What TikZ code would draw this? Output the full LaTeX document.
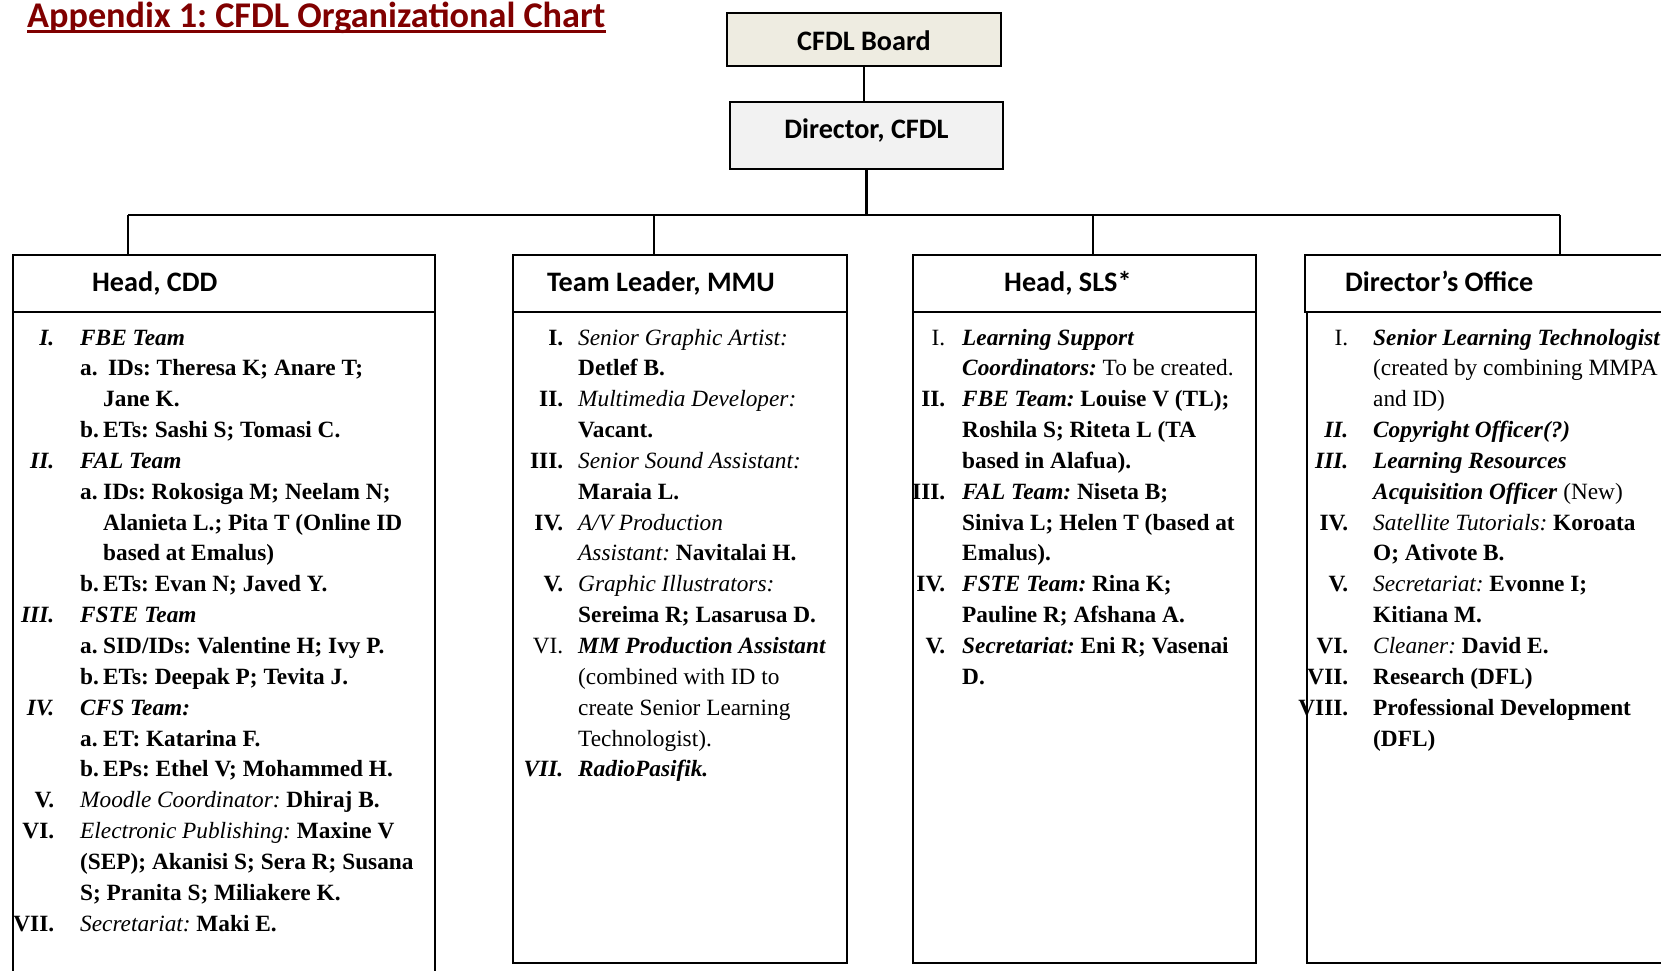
\documentclass[tikz,border=0pt]{standalone}
\usepackage{fontspec}
\setmainfont{Liberation Serif}
\newfontfamily\hdfont{Carlito}
\definecolor{titlered}{RGB}{128,0,0}
\definecolor{boardfill}{RGB}{238,236,225}
\definecolor{dirfill}{RGB}{242,242,242}
\newlength\gapw
\newcommand\rnum[1]{\llap{#1}\hspace{\gapw}}
\newcommand\cont{\hspace{\gapw}}
\newcommand\bfit[1]{\textbf{\textit{#1}}}
\newcommand\sublab[1]{\makebox[23pt][l]{#1}}
\newcommand\subind{\hspace{23pt}}
\begin{document}
\frenchspacing
\begin{tikzpicture}[x=1pt,y=-1pt,
  conn/.style={line width=2.2pt},
  box/.style={draw, line width=2.2pt, inner sep=0pt, outer sep=0pt, anchor=north west},
  topbox/.style={box, font=\hdfont\bfseries\fontsize{28.2}{34}\selectfont, align=center},
  hdtext/.style={anchor=base west, inner sep=0pt, font=\hdfont\bfseries\fontsize{28.2}{34}\selectfont},
  bodytext/.style={anchor=base west, inner sep=0pt, font=\fontsize{23.3}{30.85}\selectfont}]
\useasboundingbox (0,0) rectangle (1661,970);
\fill[white] (0,0) rectangle (1661,970);

% title
\node[anchor=base west, inner sep=0pt, text=titlered,
      font=\hdfont\bfseries\fontsize{36.2}{44}\selectfont] (title) at (27,27) {Appendix 1: CFDL Organizational Chart};
\draw[titlered, line width=3pt] ([yshift=-4pt]title.base west) -- ([yshift=-4pt]title.base east);

% top boxes
\node[topbox, fill=boardfill, minimum width=274pt, minimum height=53pt, text height=22pt, text depth=0pt] (board) at (727,13) {CFDL Board};
\node[topbox, fill=dirfill, minimum width=273pt, minimum height=67pt, text height=18pt, text depth=13pt] (dir) at (730,102) {Director, CFDL};

% body boxes
\node[box, minimum width=422pt, minimum height=700pt] (b1) at (13,312) {};
\node[box, minimum width=334pt, minimum height=651pt] (b2) at (513,312) {};
\node[box, minimum width=343pt, minimum height=651pt] (b3) at (913,312) {};
\node[box, minimum width=420pt, minimum height=651pt] (b4) at (1307,312) {};

% header boxes
\node[box, minimum width=422pt, minimum height=57pt] (h1) at (13,255) {};
\node[box, minimum width=334pt, minimum height=57pt] (h2) at (513,255) {};
\node[box, minimum width=343pt, minimum height=57pt] (h3) at (913,255) {};
\node[box, minimum width=420pt, minimum height=57pt] (h4) at (1305,255) {};

\node[hdtext] (h1t) at (92,291) {Head, CDD};
\node[hdtext] (h2t) at (547,291) {Team Leader, MMU};
\node[hdtext] (h3t) at (1004,291) {Head, SLS*};
\node[hdtext] (h4t) at (1345,291) {Director’s Office};

% connectors
\coordinate (bus) at (866.5,215);
\coordinate (busL) at (128,215);
\coordinate (d2) at (654,215);
\coordinate (d3) at (1093,215);
\coordinate (busR) at (1560,215);
\draw[conn] (board.south) -- (board.south |- dir.north);
\draw[conn] (dir.south) -- (bus);
\draw[conn] (busL) -- (busR);
\draw[conn] (busL) -- (busL |- h1.north);
\draw[conn] (d2) -- (d2 |- h2.north);
\draw[conn] (d3) -- (d3 |- h3.north);
\draw[conn] (busR) -- (busR |- h4.north);

% body texts
\node[bodytext] (b1t) at (54,345) {\setlength\gapw{26pt}\begin{tabular}[t]{@{}l@{}}
\rnum{\bfit{I.}}\bfit{FBE Team}\\
\cont\textbf{\makebox[28pt][l]{a.}IDs: Theresa K; Anare T;}\\
\cont\subind\textbf{Jane K.}\\
\cont\textbf{\sublab{b.}ETs: Sashi S; Tomasi C.}\\
\rnum{\bfit{II.}}\bfit{FAL Team}\\
\cont\textbf{\sublab{a.}IDs: Rokosiga M; Neelam N;}\\
\cont\subind\textbf{Alanieta L.; Pita T (Online ID}\\
\cont\subind\textbf{based at Emalus)}\\
\cont\textbf{\sublab{b.}ETs: Evan N; Javed Y.}\\
\rnum{\bfit{III.}}\bfit{FSTE Team}\\
\cont\textbf{\sublab{a.}SID/IDs: Valentine H; Ivy P.}\\
\cont\textbf{\sublab{b.}ETs: Deepak P; Tevita J.}\\
\rnum{\bfit{IV.}}\bfit{CFS Team:}\\
\cont\textbf{\sublab{a.}ET: Katarina F.}\\
\cont\textbf{\sublab{b.}EPs: Ethel V; Mohammed H.}\\
\rnum{\textbf{V.}}\textit{Moodle Coordinator:} \textbf{Dhiraj B.}\\
\rnum{\textbf{VI.}}\textit{Electronic Publishing:} \textbf{Maxine V}\\
\cont\textbf{(SEP); Akanisi S; Sera R; Susana}\\
\cont\textbf{S; Pranita S; Miliakere K.}\\
\rnum{\textbf{VII.}}\textit{Secretariat:} \textbf{Maki E.}
\end{tabular}};

\node[bodytext] (b2t) at (563,345) {\setlength\gapw{15pt}\begin{tabular}[t]{@{}l@{}}
\rnum{\textbf{I.}}\textit{Senior Graphic Artist:}\\
\cont\textbf{Detlef B.}\\
\rnum{\textbf{II.}}\textit{Multimedia Developer:}\\
\cont\textbf{Vacant.}\\
\rnum{\textbf{III.}}\textit{Senior Sound Assistant:}\\
\cont\textbf{Maraia L.}\\
\rnum{\textbf{IV.}}\textit{A/V Production}\\
\cont\textit{Assistant:} \textbf{Navitalai H.}\\
\rnum{\textbf{V.}}\textit{Graphic Illustrators:}\\
\cont\textbf{Sereima R; Lasarusa D.}\\
\rnum{VI.}\bfit{MM Production Assistant}\\
\cont(combined with ID to\\
\cont create Senior Learning\\
\cont Technologist).\\
\rnum{\bfit{VII.}}\bfit{RadioPasifik.}
\end{tabular}};

\node[bodytext] (b3t) at (945,345) {\setlength\gapw{17pt}\begin{tabular}[t]{@{}l@{}}
\rnum{I.}\bfit{Learning Support}\\
\cont\bfit{Coordinators:} To be created.\\
\rnum{\textbf{II.}}\bfit{FBE Team:} \textbf{Louise V (TL);}\\
\cont\textbf{Roshila S; Riteta L (TA}\\
\cont\textbf{based in Alafua).}\\
\rnum{\textbf{III.}}\bfit{FAL Team:} \textbf{Niseta B;}\\
\cont\textbf{Siniva L; Helen T (based at}\\
\cont\textbf{Emalus).}\\
\rnum{\textbf{IV.}}\bfit{FSTE Team:} \textbf{Rina K;}\\
\cont\textbf{Pauline R; Afshana A.}\\
\rnum{\textbf{V.}}\bfit{Secretariat:} \textbf{Eni R; Vasenai}\\
\cont\textbf{D.}
\end{tabular}};

\node[bodytext] (b4t) at (1348,345) {\setlength\gapw{25pt}\begin{tabular}[t]{@{}l@{}}
\rnum{I.}\bfit{Senior Learning Technologist}\\
\cont(created by combining MMPA\\
\cont and ID)\\
\rnum{\bfit{II.}}\bfit{Copyright Officer(?)}\\
\rnum{\bfit{III.}}\bfit{Learning Resources}\\
\cont\bfit{Acquisition Officer} (New)\\
\rnum{\textbf{IV.}}\textit{Satellite Tutorials:} \textbf{Koroata}\\
\cont\textbf{O; Ativote B.}\\
\rnum{\textbf{V.}}\textit{Secretariat:} \textbf{Evonne I;}\\
\cont\textbf{Kitiana M.}\\
\rnum{\textbf{VI.}}\textit{Cleaner:} \textbf{David E.}\\
\rnum{\textbf{VII.}}\textbf{Research (DFL)}\\
\rnum{\textbf{VIII.}}\textbf{Professional Development}\\
\cont\textbf{(DFL)}
\end{tabular}};
\end{tikzpicture}
\end{document}
